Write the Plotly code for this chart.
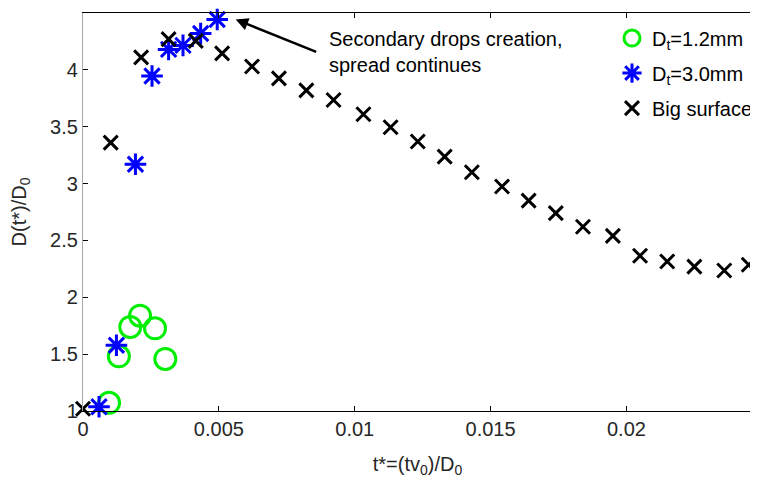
import plotly.graph_objects as go

# Data
t_small = [0.00044, 0.00096, 0.00132, 0.00174, 0.00210, 0.00265, 0.00303]
d_small = [0.978, 1.072, 1.481, 1.739, 1.838, 1.727, 1.458]

t_med = [0.00059, 0.00123, 0.00193, 0.00254, 0.00315, 0.00368, 0.00433, 0.00494]
d_med = [1.037, 1.578, 3.17, 3.946, 4.18, 4.215, 4.32, 4.443]

t_big = [0.0, 0.00102, 0.00214, 0.00315, 0.00415, 0.00512, 0.00622, 0.00721, 0.00822,
         0.00922, 0.01032, 0.01132, 0.01232, 0.01331, 0.01431, 0.01542, 0.0164,
         0.0174, 0.0184, 0.0195, 0.0205, 0.0215, 0.0225, 0.0236, 0.0245]
d_big = [1.02, 3.36, 4.11, 4.27, 4.255, 4.145, 4.03, 3.925, 3.82,
         3.735, 3.61, 3.495, 3.37, 3.237, 3.10, 2.974, 2.85,
         2.74, 2.62, 2.54, 2.365, 2.315, 2.27, 2.236, 2.286]

names = ["D<sub>t</sub>=1.2mm", "D<sub>t</sub>=3.0mm", "Big surface"]
x_ticks = [0, 0.005, 0.01, 0.015, 0.02]
y_ticks = [1, 1.5, 2, 2.5, 3, 3.5, 4]

FONT = "Liberation Sans, Arial, sans-serif"
TXT = "#262626"
FS = 20

fig = go.Figure()
fig.add_trace(go.Scatter(x=t_small, y=d_small, mode="markers", name=names[0],
                         legendgroup="g1", cliponaxis=False,
                         marker=dict(symbol="circle-open", size=21, color="#00ee00",
                                     line=dict(width=3, color="#00ee00"))))
fig.add_trace(go.Scatter(x=t_med, y=d_med, mode="markers", name=names[1],
                         legendgroup="g2", cliponaxis=False,
                         marker=dict(symbol="asterisk-open", size=18, color="#0000ff",
                                     line=dict(width=3, color="#0000ff"))))
fig.add_trace(go.Scatter(x=t_big, y=d_big, mode="markers", name=names[2],
                         legendgroup="g3", cliponaxis=False,
                         marker=dict(symbol="x-thin-open", size=14, color="#000000",
                                     line=dict(width=3, color="#000000"))))

# Arrow
fig.add_annotation(x=0.00562, y=4.443, xref="x", yref="y", text="",
                   showarrow=True, arrowhead=2, arrowsize=1, arrowwidth=2.5,
                   arrowcolor="black", ax=82, ay=33, axref="pixel", ayref="pixel")
# Text
fig.add_annotation(x=0.00897, y=4.386, xref="x", yref="y",
                   text="Secondary drops creation,<br>spread continues",
                   showarrow=False, xanchor="left", yanchor="top", align="left",
                   font=dict(family=FONT, size=FS, color="black"))

fig.update_layout(
    width=750, height=471,
    margin=dict(l=75, r=0, t=5, b=67.5),
    paper_bgcolor="white", plot_bgcolor="white",
    font=dict(family=FONT, size=FS, color=TXT),
    showlegend=True,
    legend=dict(x=0.791, y=0.986, xanchor="left", yanchor="top",
                bgcolor="rgba(255,255,255,0)", borderwidth=0, tracegroupgap=6,
                traceorder="grouped",
                font=dict(family=FONT, size=FS, color="black")),
    xaxis=dict(range=[0, 0.02462], tickvals=x_ticks, ticks="inside", ticklen=5,
               tickcolor="black", showline=True, linecolor="black", linewidth=1.3,
               mirror="ticks", showgrid=False, zeroline=False, automargin=False,
               title=dict(text="t*=(tv<sub>0</sub>)/D<sub>0</sub>", standoff=17,
                          font=dict(family=FONT, size=FS, color=TXT))),
    yaxis=dict(range=[1, 4.5], tickvals=y_ticks, ticks="inside", ticklen=5,
               tickcolor="black", showline=True, linecolor="#a8a8a8", linewidth=1.3,
               showgrid=False, zeroline=False, automargin=False,
               title=dict(text="D(t*)/D<sub>0</sub>", standoff=18,
                          font=dict(family=FONT, size=FS, color=TXT))),
)

fig.write_html("out.html")
